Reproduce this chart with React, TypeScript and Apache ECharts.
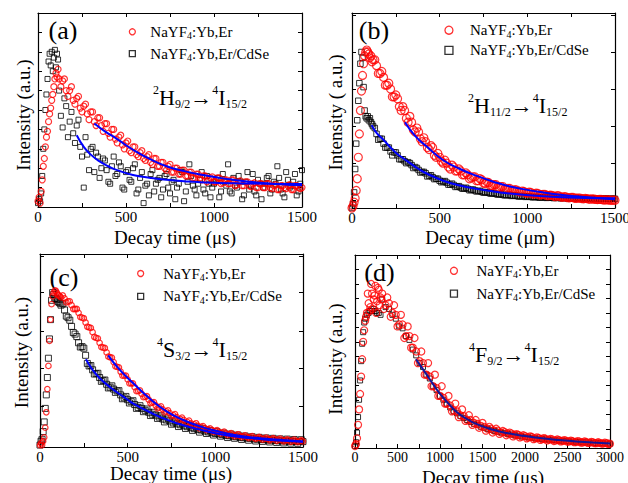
import React, { useEffect, useRef } from "react";
import * as echarts from "echarts";

const FONT = "'Liberation Serif', 'Times New Roman', serif";
const RED = "NaYF4:Yb,Er";
const BLACK = "NaYF4:Yb,Er/CdSe";

// sampling times (µs) for panels a, b, c
const timeABC = [
  0, 6, 12, 18, 24, 30, 36, 42, 48, 54, 60, 66, 72, 78, 84, 90, 96, 102, 108, 114, 120,
  140, 160, 180, 200, 220, 240, 260, 280, 300, 320,
  340, 360, 380, 400, 420, 440, 460, 480, 500, 520,
  540, 560, 580, 600, 620, 640, 660, 680, 700, 720,
  740, 760, 780, 800, 820, 840, 860, 880, 900, 920,
  940, 960, 980, 1000, 1020, 1040, 1060, 1080, 1100, 1120,
  1140, 1160, 1180, 1200, 1220, 1240, 1260, 1280, 1300, 1320,
  1340, 1360, 1380, 1400, 1420, 1440, 1460, 1480, 1500,
];
// second (interleaved) sampling times for panels a, b, c
const timeMid = [
  130, 150, 170, 190, 210, 230, 250, 270, 290, 310,
  330, 350, 370, 390, 410, 430, 450, 470, 490, 510,
  530, 550, 570, 590, 610, 630, 650, 670, 690, 710,
  730, 750, 770, 790, 810, 830, 850, 870, 890, 910,
  930, 950, 970, 990, 1010, 1030, 1050, 1070, 1090, 1110,
  1130, 1150, 1170, 1190, 1210, 1230, 1250, 1270, 1290, 1310,
  1330, 1350, 1370, 1390, 1410, 1430, 1450, 1470, 1490,
];
// sampling times (µs) for panel d
const timeD = [
  0, 12, 24, 36, 48, 60, 72, 84, 96, 108, 120,
  140, 160, 180, 200, 220, 240, 260, 280, 300,
  320, 360, 400, 440, 480, 520, 560, 600, 640, 680,
  720, 760, 800, 840, 880, 920, 960, 1000, 1040, 1080,
  1120, 1160, 1200, 1240, 1280, 1320, 1360, 1400, 1440, 1480,
  1520, 1560, 1600, 1640, 1680, 1720, 1760, 1800, 1840, 1880,
  1920, 1960, 2000, 2040, 2080, 2120, 2160, 2200, 2240, 2280,
  2320, 2360, 2400, 2440, 2480, 2520, 2560, 2600, 2640, 2680,
  2720, 2760, 2800, 2840, 2880, 2920, 2960, 3000,
];
const timeMidD = [
  130, 150, 170, 190, 210, 230, 250, 270, 290, 310,
  340, 380, 420, 460, 500, 540, 580, 620, 660, 700,
  740, 780, 820, 860, 900, 940, 980, 1020, 1060, 1100,
  1140, 1180, 1220, 1260, 1300, 1340, 1380, 1420, 1460, 1500,
  1540, 1580, 1620, 1660, 1700, 1740, 1780, 1820, 1860, 1900,
  1940, 1980, 2020, 2060, 2100, 2140, 2180, 2220, 2260, 2300,
  2340, 2380, 2420, 2460, 2500, 2540, 2580, 2620, 2660, 2700,
  2740, 2780, 2820, 2860, 2900, 2940, 2980,
];

// (a) 2H9/2 -> 4I15/2
const aRed = [
  0.03, 0.05, 0.02, 0.08, 0.14, 0.21, 0.25, 0.31, 0.36, 0.39, 0.44, 0.48, 0.51, 0.55, 0.58, 0.62, 0.66, 0.69, 0.67, 0.71, 0.66,
  0.65, 0.6, 0.6, 0.55, 0.56, 0.51, 0.52, 0.48, 0.49, 0.44,
  0.46, 0.42, 0.43, 0.38, 0.4, 0.35, 0.36, 0.32, 0.33, 0.29,
  0.31, 0.27, 0.28, 0.25, 0.26, 0.23, 0.25, 0.21, 0.23, 0.2,
  0.21, 0.18, 0.2, 0.17, 0.19, 0.16, 0.18, 0.15, 0.17, 0.15,
  0.16, 0.13, 0.15, 0.13, 0.15, 0.12, 0.14, 0.12, 0.14, 0.11,
  0.13, 0.11, 0.13, 0.11, 0.12, 0.1, 0.12, 0.1, 0.12, 0.1,
  0.11, 0.09, 0.11, 0.1, 0.11, 0.09, 0.11, 0.1, 0.1,
];
const aRed2 = [
  0.62, 0.66, 0.57, 0.62, 0.53, 0.57, 0.49, 0.53, 0.45, 0.49,
  0.42, 0.46, 0.39, 0.43, 0.36, 0.4, 0.33, 0.37, 0.3, 0.34,
  0.28, 0.31, 0.26, 0.29, 0.24, 0.27, 0.22, 0.25, 0.21, 0.23,
  0.19, 0.22, 0.18, 0.2, 0.17, 0.19, 0.16, 0.18, 0.15, 0.17,
  0.14, 0.16, 0.14, 0.155, 0.13, 0.15, 0.125, 0.14, 0.12, 0.14,
  0.115, 0.135, 0.11, 0.13, 0.105, 0.125, 0.1, 0.12, 0.1, 0.12,
  0.095, 0.115, 0.09, 0.11, 0.095, 0.115, 0.09, 0.11, 0.095,
];
const aBlack = [
  0.02, 0.04, 0.03, 0.07, 0.16, 0.3, 0.4, 0.5, 0.58, 0.66, 0.75, 0.79, 0.73, 0.8, 0.7, 0.77, 0.81, 0.72, 0.79, 0.76, 0.6,
  0.41, 0.52, 0.44, 0.38, 0.42, 0.31, 0.1, 0.27, 0.3, 0.18,
  0.26, 0.2, 0.24, 0.13, 0.21, 0.16, 0.23, 0.1, 0.18, 0.14,
  0.2, 0.07, 0.15, 0.02, 0.12, 0.17, 0.08, 0.14, 0.05, 0.16,
  0.1, 0.13, 0.04, 0.12, 0.18, 0.08, 0.22, 0.11, 0.06, 0.14,
  0.09, 0.16, 0.05, 0.12, 0.15, 0.08, 0.13, 0.22, 0.07, 0.11,
  0.16, 0.04, 0.13, 0.09, 0.17, 0.06, 0.12, 0.1, 0.15, 0.07,
  0.13, 0.21, 0.09, 0.05, 0.14, 0.11, 0.17, 0.08, 0.19,
];
const aBlack2 = [
  0.47, 0.56, 0.36, 0.49, 0.33, 0.45, 0.26, 0.36, 0.19, 0.31,
  0.28, 0.15, 0.25, 0.19, 0.12, 0.26, 0.17, 0.21, 0.09, 0.19,
  0.13, 0.22, 0.09, 0.18, 0.11, 0.06, 0.19, 0.12, 0.15, 0.09,
  0.17, 0.07, 0.14, 0.1, 0.19, 0.03, 0.13, 0.16, 0.09, 0.12,
  0.18, 0.07, 0.12, 0.1, 0.14, 0.05, 0.17, 0.11, 0.08, 0.15,
  0.1, 0.13, 0.06, 0.18, 0.11, 0.08, 0.14, 0.04, 0.12, 0.16,
  0.09, 0.12, 0.15, 0.07, 0.18, 0.1, 0.13, 0.06, 0.12,
];
const aFitRed = [
  [320, 0.43], [380, 0.39], [450, 0.35], [540, 0.295], [640, 0.245], [730, 0.21], [830, 0.185],
  [920, 0.167], [1020, 0.152], [1110, 0.14], [1200, 0.13], [1300, 0.122], [1400, 0.116], [1500, 0.112],
];
const aFitBlack = [
  [220, 0.37], [260, 0.31], [300, 0.27], [350, 0.235], [400, 0.21], [450, 0.19], [540, 0.165],
  [640, 0.15], [730, 0.14], [830, 0.133], [920, 0.128], [1110, 0.122], [1300, 0.12], [1500, 0.118],
];

// (b) 2H11/2 -> 4I15/2
const bRed = [
  0, 0.01, 0.03, 0.05, 0.09, 0.15, 0.26, 0.38, 0.5, 0.6, 0.68, 0.74, 0.78, 0.8, 0.81, 0.8, 0.79, 0.77, 0.78, 0.75, 0.76,
  0.73, 0.69, 0.67, 0.63, 0.61, 0.57, 0.56, 0.5, 0.5, 0.44,
  0.44, 0.39, 0.39, 0.34, 0.34, 0.3, 0.31, 0.26, 0.26, 0.23,
  0.23, 0.2, 0.21, 0.19, 0.19, 0.17, 0.17, 0.155, 0.16, 0.14,
  0.145, 0.125, 0.13, 0.115, 0.12, 0.105, 0.11, 0.095, 0.1, 0.09,
  0.092, 0.082, 0.085, 0.076, 0.08, 0.072, 0.075, 0.068, 0.07, 0.063,
  0.065, 0.058, 0.062, 0.055, 0.057, 0.052, 0.054, 0.05, 0.051, 0.047,
  0.048, 0.045, 0.046, 0.043, 0.044, 0.041, 0.042, 0.04, 0.04,
];
const bRed2 = [
  0.76, 0.69, 0.7, 0.63, 0.64, 0.57, 0.58, 0.52, 0.52, 0.46,
  0.47, 0.4, 0.41, 0.355, 0.36, 0.31, 0.32, 0.27, 0.28, 0.24,
  0.245, 0.21, 0.22, 0.19, 0.2, 0.17, 0.18, 0.15, 0.16, 0.14,
  0.15, 0.128, 0.133, 0.115, 0.12, 0.105, 0.11, 0.096, 0.1, 0.09,
  0.094, 0.084, 0.087, 0.078, 0.081, 0.072, 0.076, 0.067, 0.07, 0.064,
  0.066, 0.061, 0.063, 0.057, 0.058, 0.053, 0.054, 0.05, 0.051, 0.048,
  0.049, 0.046, 0.047, 0.044, 0.044, 0.042, 0.042, 0.04, 0.04,
];
const bBlack = [
  0, 0.02, 0.08, 0.2, 0.33, 0.45, 0.55, 0.64, 0.74, 0.8, 0.77, 0.62, 0.5, 0.47, 0.46, 0.47, 0.45, 0.46, 0.44, 0.43, 0.42,
  0.38, 0.355, 0.33, 0.31, 0.29, 0.285, 0.27, 0.25, 0.24, 0.235,
  0.22, 0.21, 0.195, 0.185, 0.178, 0.165, 0.158, 0.15, 0.14, 0.135,
  0.13, 0.12, 0.118, 0.11, 0.105, 0.1, 0.098, 0.093, 0.09, 0.087,
  0.083, 0.08, 0.078, 0.075, 0.073, 0.07, 0.068, 0.066, 0.065, 0.063,
  0.062, 0.06, 0.06, 0.058, 0.057, 0.056, 0.055, 0.055, 0.054, 0.053,
  0.053, 0.052, 0.052, 0.051, 0.051, 0.05, 0.05, 0.05, 0.05, 0.049,
  0.049, 0.049, 0.048, 0.048, 0.048, 0.048, 0.047, 0.047, 0.047,
];
const bBlack2 = [
  0.41, 0.35, 0.355, 0.31, 0.31, 0.27, 0.285, 0.25, 0.25, 0.23,
  0.23, 0.205, 0.205, 0.182, 0.185, 0.162, 0.168, 0.148, 0.15, 0.132,
  0.138, 0.12, 0.125, 0.108, 0.112, 0.099, 0.104, 0.091, 0.095, 0.085,
  0.088, 0.079, 0.082, 0.074, 0.077, 0.069, 0.072, 0.065, 0.068, 0.062,
  0.065, 0.059, 0.062, 0.057, 0.06, 0.055, 0.058, 0.053, 0.056, 0.052,
  0.055, 0.051, 0.054, 0.05, 0.053, 0.049, 0.052, 0.048, 0.051, 0.048,
  0.05, 0.047, 0.05, 0.046, 0.049, 0.046, 0.049, 0.046, 0.048,
];
const bFitRed = [
  [302, 0.44], [360, 0.37], [426, 0.315], [521, 0.245], [616, 0.2], [711, 0.165], [806, 0.135],
  [901, 0.11], [1000, 0.093], [1091, 0.08], [1190, 0.068], [1280, 0.06], [1400, 0.051], [1500, 0.045],
];
const bFitBlack = [
  [112, 0.425], [140, 0.385], [179, 0.35], [220, 0.31], [255, 0.28], [300, 0.25], [331, 0.23], [380, 0.2],
  [426, 0.177], [521, 0.14], [616, 0.115], [711, 0.098], [806, 0.085], [901, 0.074], [1091, 0.06],
  [1280, 0.053], [1500, 0.05],
];

// (c) 4S3/2 -> 4I15/2
const cRed = [
  0.01, 0.02, 0.01, 0.03, 0.05, 0.1, 0.18, 0.3, 0.42, 0.55, 0.66, 0.74, 0.78, 0.8, 0.81, 0.81, 0.8, 0.79, 0.785, 0.78, 0.775,
  0.77, 0.755, 0.735, 0.715, 0.695, 0.67, 0.645, 0.62, 0.595, 0.565,
  0.54, 0.515, 0.49, 0.465, 0.44, 0.415, 0.39, 0.37, 0.35, 0.33,
  0.31, 0.29, 0.275, 0.26, 0.245, 0.23, 0.215, 0.205, 0.195, 0.185,
  0.175, 0.165, 0.155, 0.145, 0.14, 0.13, 0.123, 0.117, 0.11, 0.104,
  0.098, 0.093, 0.088, 0.083, 0.078, 0.074, 0.071, 0.067, 0.064, 0.061,
  0.058, 0.056, 0.053, 0.051, 0.049, 0.047, 0.045, 0.044, 0.042, 0.041,
  0.039, 0.038, 0.036, 0.035, 0.034, 0.033, 0.031, 0.03, 0.029,
];
const cRed2 = [
  0.785, 0.75, 0.755, 0.715, 0.715, 0.673, 0.667, 0.623, 0.617, 0.57,
  0.563, 0.518, 0.513, 0.468, 0.463, 0.418, 0.413, 0.37, 0.37, 0.33,
  0.33, 0.29, 0.293, 0.258, 0.263, 0.228, 0.232, 0.2, 0.21, 0.18,
  0.19, 0.16, 0.17, 0.14, 0.152, 0.125, 0.137, 0.11, 0.123, 0.097,
  0.108, 0.088, 0.097, 0.078, 0.087, 0.069, 0.079, 0.062, 0.072, 0.055,
  0.066, 0.051, 0.06, 0.046, 0.056, 0.042, 0.052, 0.038, 0.049, 0.035,
  0.046, 0.032, 0.043, 0.029, 0.04, 0.027, 0.038, 0.025, 0.035,
];
const cBlack = [
  0.01, 0.03, 0.04, 0.08, 0.13, 0.2, 0.27, 0.36, 0.46, 0.56, 0.66, 0.76, 0.8, 0.79, 0.77, 0.77, 0.765, 0.755, 0.75, 0.745, 0.735,
  0.71, 0.67, 0.625, 0.585, 0.54, 0.52, 0.475, 0.42, 0.4, 0.38,
  0.36, 0.345, 0.325, 0.31, 0.3, 0.29, 0.27, 0.255, 0.245, 0.235,
  0.22, 0.205, 0.2, 0.19, 0.18, 0.17, 0.165, 0.155, 0.145, 0.14,
  0.135, 0.125, 0.12, 0.115, 0.11, 0.105, 0.1, 0.095, 0.09, 0.088,
  0.083, 0.078, 0.074, 0.07, 0.068, 0.064, 0.06, 0.058, 0.056, 0.053,
  0.05, 0.048, 0.046, 0.045, 0.042, 0.04, 0.04, 0.038, 0.036, 0.036,
  0.034, 0.032, 0.032, 0.031, 0.03, 0.03, 0.029, 0.028, 0.028,
];
const cBlack2 = [
  0.742, 0.678, 0.657, 0.593, 0.572, 0.518, 0.512, 0.433, 0.422, 0.378,
  0.382, 0.34, 0.347, 0.306, 0.317, 0.283, 0.292, 0.25, 0.262, 0.228,
  0.24, 0.2, 0.214, 0.183, 0.197, 0.163, 0.18, 0.148, 0.162, 0.13,
  0.15, 0.118, 0.134, 0.106, 0.124, 0.096, 0.114, 0.086, 0.104, 0.077,
  0.095, 0.07, 0.086, 0.062, 0.079, 0.056, 0.072, 0.049, 0.067, 0.045,
  0.062, 0.039, 0.057, 0.035, 0.053, 0.031, 0.05, 0.029, 0.047, 0.026,
  0.045, 0.023, 0.042, 0.021, 0.041, 0.02, 0.039, 0.019, 0.038,
];
const cFitRed = [
  [389, 0.475], [450, 0.405], [532, 0.33], [627, 0.25], [722, 0.185], [817, 0.14], [912, 0.107],
  [1007, 0.083], [1102, 0.064], [1197, 0.051], [1292, 0.043], [1387, 0.036], [1500, 0.029],
];
const cFitBlack = [
  [262, 0.455], [300, 0.4], [342, 0.355], [400, 0.31], [437, 0.285], [500, 0.245], [532, 0.225],
  [627, 0.18], [722, 0.142], [817, 0.113], [912, 0.09], [1007, 0.07], [1102, 0.056], [1197, 0.046],
  [1292, 0.038], [1387, 0.032], [1500, 0.027],
];

// (d) 4F9/2 -> 4I15/2
const dRed = [
  0.01, 0.02, 0.05, 0.12, 0.2, 0.28, 0.37, 0.46, 0.55, 0.61, 0.66,
  0.7, 0.75, 0.73, 0.8, 0.77, 0.84, 0.76, 0.82, 0.78,
  0.8, 0.74, 0.75, 0.7, 0.69, 0.64, 0.64, 0.58, 0.58, 0.52,
  0.5, 0.45, 0.44, 0.38, 0.37, 0.32, 0.31, 0.27, 0.26, 0.23,
  0.22, 0.195, 0.19, 0.17, 0.165, 0.145, 0.145, 0.13, 0.125, 0.115,
  0.11, 0.1, 0.1, 0.09, 0.09, 0.08, 0.082, 0.074, 0.075, 0.068,
  0.068, 0.06, 0.062, 0.055, 0.057, 0.05, 0.052, 0.046, 0.048, 0.043,
  0.044, 0.039, 0.041, 0.036, 0.038, 0.034, 0.035, 0.031, 0.033, 0.029,
  0.031, 0.027, 0.029, 0.025, 0.027, 0.023, 0.025, 0.022,
];
const dRed2 = [
  0.68, 0.8, 0.71, 0.85, 0.72, 0.79, 0.7, 0.83, 0.74, 0.77,
  0.72, 0.78, 0.68, 0.74, 0.63, 0.69, 0.57, 0.63, 0.52, 0.57,
  0.44, 0.5, 0.38, 0.44, 0.32, 0.38, 0.27, 0.32, 0.23, 0.27,
  0.19, 0.23, 0.16, 0.2, 0.14, 0.17, 0.12, 0.145, 0.105, 0.13,
  0.09, 0.11, 0.08, 0.1, 0.073, 0.088, 0.066, 0.08, 0.06, 0.072,
  0.055, 0.066, 0.05, 0.06, 0.046, 0.055, 0.042, 0.051, 0.039, 0.047,
  0.036, 0.044, 0.034, 0.041, 0.032, 0.038, 0.03, 0.036, 0.028, 0.034,
  0.026, 0.032, 0.025, 0.03, 0.023, 0.028, 0.021,
];
const dBlack = [
  0.01, 0.03, 0.08, 0.16, 0.25, 0.35, 0.45, 0.54, 0.6, 0.65, 0.67,
  0.69, 0.7, 0.71, 0.71, 0.72, 0.71, 0.7, 0.7, 0.69,
  0.77, 0.73, 0.72, 0.69, 0.67, 0.63, 0.62, 0.58, 0.56, 0.51,
  0.48, 0.44, 0.42, 0.38, 0.36, 0.32, 0.3, 0.27, 0.25, 0.23,
  0.21, 0.19, 0.18, 0.165, 0.155, 0.145, 0.135, 0.125, 0.12, 0.11,
  0.105, 0.098, 0.094, 0.088, 0.084, 0.08, 0.077, 0.073, 0.07, 0.066,
  0.064, 0.06, 0.058, 0.055, 0.053, 0.05, 0.049, 0.046, 0.045, 0.043,
  0.042, 0.04, 0.039, 0.037, 0.036, 0.034, 0.033, 0.032, 0.031, 0.03,
  0.029, 0.028, 0.027, 0.026, 0.025, 0.024, 0.023, 0.022,
];
const dFitRed = [
  [717, 0.46], [780, 0.42], [843, 0.38], [920, 0.33], [1000, 0.28], [1100, 0.23], [1200, 0.185],
  [1300, 0.155], [1400, 0.13], [1600, 0.097], [1800, 0.076], [2000, 0.062], [2200, 0.05],
  [2400, 0.041], [2600, 0.034], [2800, 0.028], [3000, 0.023],
];

// tick positions / labels
const xTicks1500 = [0, 250, 500, 750, 1000, 1250, 1500];
const xLabels1500 = [0, 500, 1000, 1500];
const xTicks3000 = [0, 250, 500, 750, 1000, 1250, 1500, 1750, 2000, 2250, 2500, 2750, 3000];
const xLabels3000 = [0, 500, 1000, 1500, 2000, 2500, 3000];
const yTicksA = [0.1, 0.2, 0.3, 0.4, 0.5, 0.6, 0.7, 0.8, 0.9];
const yTicksB = [0.04, 0.23, 0.42, 0.61, 0.8, 0.99];
const yTicksC = [0.02, 0.21, 0.41, 0.6, 0.8, 0.99];
const yTicksD = [0.024, 0.099, 0.174, 0.249, 0.324, 0.399, 0.474, 0.549, 0.624, 0.699, 0.774, 0.849, 0.924];

const pts = (t: number[], v: number[]) => t.map((x, i) => [x, v[i]]);

type Panel = {
  grid: { left: number; top: number; width: number; height: number };
  xMax: number;
  xTicks: number[];
  xLabels: number[];
  yTicks: number[];
  labelSize: number;
  red: number[][];
  black: number[][];
  fits: number[][][];
  fitColor: string;
  redSize: number;
  blackSize: number;
  legend: { left: number; top: number; gap: number; pad: number; icon: number };
};

const panels: Panel[] = [
  {
    grid: { left: 38, top: 13, width: 264, height: 194 },
    xMax: 1500, xTicks: xTicks1500, xLabels: xLabels1500, yTicks: yTicksA, labelSize: 15,
    red: [...pts(timeABC, aRed), ...pts(timeMid, aRed2)],
    black: [...pts(timeABC, aBlack), ...pts(timeMid, aBlack2)],
    fits: [aFitBlack, aFitRed], fitColor: "#0000ff",
    redSize: 6, blackSize: 5,
    legend: { left: 128.7, top: 24.3, gap: 5.4, pad: 10, icon: 6 },
  },
  {
    grid: { left: 352, top: 13, width: 263, height: 195 },
    xMax: 1500, xTicks: xTicks1500, xLabels: xLabels1500, yTicks: yTicksB, labelSize: 15,
    red: [...pts(timeABC, bRed), ...pts(timeMid, bRed2)],
    black: [...pts(timeABC, bBlack), ...pts(timeMid, bBlack2)],
    fits: [bFitBlack, bFitRed], fitColor: "#0000ff",
    redSize: 8, blackSize: 5.5,
    legend: { left: 444.3, top: 22.7, gap: 3.6, pad: 12, icon: 8 },
  },
  {
    grid: { left: 40, top: 254, width: 263, height: 193 },
    xMax: 1500, xTicks: xTicks1500, xLabels: xLabels1500, yTicks: yTicksC, labelSize: 15,
    red: [...pts(timeABC, cRed), ...pts(timeMid, cRed2)],
    black: [...pts(timeABC, cBlack), ...pts(timeMid, cBlack2)],
    fits: [cFitBlack, cFitRed], fitColor: "#0000ff",
    redSize: 5.5, blackSize: 6,
    legend: { left: 137, top: 266, gap: 6.3, pad: 14.5, icon: 6 },
  },
  {
    grid: { left: 355, top: 255, width: 255, height: 193 },
    xMax: 3000, xTicks: xTicks3000, xLabels: xLabels3000, yTicks: yTicksD, labelSize: 14,
    red: [...pts(timeD, dRed), ...pts(timeMidD, dRed2)],
    black: pts(timeD, dBlack),
    fits: [dFitRed], fitColor: "#15159a",
    redSize: 7, blackSize: 5,
    legend: { left: 449.8, top: 263.3, gap: 6.4, pad: 14, icon: 7 },
  },
];

const tags = [
  { text: "(a)", x: 63, y: 30 },
  { text: "(b)", x: 374, y: 30 },
  { text: "(c)", x: 64, y: 277 },
  { text: "(d)", x: 379.5, y: 272 },
];
const yTitles = [
  { text: "Intensity (a.u.)", x: 23, y: 115 },
  { text: "Intensity ( a.u.)", x: 335, y: 112.5 },
  { text: "Intensity (a.u.)", x: 21, y: 352.5 },
  { text: "Intensity (a.u.)", x: 335, y: 359 },
];
const xTitles = [
  { text: "Decay time (μs)", x: 175, y: 237 },
  { text: "Decay time (μm)", x: 490, y: 237 },
  { text: "Decay time (μs)", x: 171, y: 473 },
  { text: "Decay time (μs)", x: 483, y: 477 },
];
const transitions = [
  { text: "{p|2}{m|H}{b|9/2}{m|→}{p|4}{m|I}{b|15/2}", x: 153, y: 97 },
  { text: "{p|2}{m|H}{b|11/2}{m|→}{p|4}{m|I}{b|15/2}", x: 468, y: 105 },
  { text: "{p|4}{m|S}{b|3/2}{m|→}{p|4}{m|I}{b|15/2}", x: 157, y: 349 },
  { text: "{p|4}{m|F}{b|9/2}{m|→}{p|4}{m|I}{b|15/2}", x: 469, y: 354 },
];

function buildOption() {
  const axisLine = { show: true, onZero: false, lineStyle: { color: "#000", width: 1.2 } };
  const grid: any[] = [];
  const xAxis: any[] = [];
  const yAxis: any[] = [];
  const series: any[] = [];
  const legend: any[] = [];

  panels.forEach((p, i) => {
    grid.push({ ...p.grid, containLabel: false, outerBoundsMode: "none" });
    const tick = (vals: number[]) => ({
      show: true, inside: true, length: 4, customValues: vals,
      lineStyle: { color: "#000", width: 1 },
    });
    xAxis.push({
      type: "value", gridIndex: i, position: "bottom", min: 0, max: p.xMax,
      axisLine, axisTick: tick(p.xTicks), splitLine: { show: false },
      axisLabel: {
        customValues: p.xLabels, fontFamily: FONT, fontSize: p.labelSize, color: "#000", margin: 2,
        formatter: (v: number) => String(v),
      },
    });
    xAxis.push({
      type: "value", gridIndex: i, position: "top", min: 0, max: p.xMax,
      axisLine, axisTick: tick(p.xTicks), splitLine: { show: false }, axisLabel: { show: false },
    });
    yAxis.push({
      type: "value", gridIndex: i, position: "left", min: 0, max: 1,
      axisLine, axisTick: tick(p.yTicks), splitLine: { show: false }, axisLabel: { show: false },
    });
    yAxis.push({
      type: "value", gridIndex: i, position: "right", min: 0, max: 1,
      axisLine, axisTick: tick(p.yTicks), splitLine: { show: false }, axisLabel: { show: false },
    });

    series.push({
      type: "scatter", name: BLACK, xAxisIndex: 2 * i, yAxisIndex: 2 * i,
      data: p.black, symbol: "rect", symbolSize: p.blackSize,
      itemStyle: { color: "rgba(0,0,0,0)", borderColor: "#000", borderWidth: 1 },
      emphasis: { disabled: true }, z: 2,
    });
    series.push({
      type: "scatter", name: RED, xAxisIndex: 2 * i, yAxisIndex: 2 * i,
      data: p.red, symbol: "circle", symbolSize: p.redSize,
      itemStyle: { color: "rgba(0,0,0,0)", borderColor: "#ff0000", borderWidth: 1.2 },
      emphasis: { disabled: true }, z: 3,
    });
    p.fits.forEach((f) => {
      series.push({
        type: "line", name: "fit", xAxisIndex: 2 * i, yAxisIndex: 2 * i,
        data: f, smooth: true, showSymbol: false, symbol: "none",
        lineStyle: { color: p.fitColor, width: 2 }, emphasis: { disabled: true }, z: 4,
      });
    });

    const L = p.legend;
    legend.push({
      orient: "vertical", left: L.left, top: L.top, itemGap: L.gap, padding: 0,
      itemWidth: L.icon, itemHeight: L.icon, selectedMode: false,
      data: [
        { name: RED, icon: "circle", itemStyle: { color: "rgba(0,0,0,0)", borderColor: "#ff0000", borderWidth: 1.3 } },
        { name: BLACK, icon: "rect", itemStyle: { color: "rgba(0,0,0,0)", borderColor: "#000", borderWidth: 1.3 } },
      ],
      formatter: (name: string) =>
        name === RED ? "{t|NaYF}{s|4}{t|:Yb,Er}" : "{t|NaYF}{s|4}{t|:Yb,Er/CdSe}",
      textStyle: {
        padding: [0, 0, 0, L.pad],
        rich: {
          t: { fontFamily: FONT, fontSize: 15, color: "#000", lineHeight: 18 },
          s: { fontFamily: FONT, fontSize: 10, color: "#000", lineHeight: 8, verticalAlign: "bottom" },
        },
      },
    });
  });

  const graphic: any[] = [];
  tags.forEach((t) =>
    graphic.push({
      type: "text", x: t.x, y: t.y, silent: true,
      style: { text: t.text, fontFamily: FONT, fontSize: 26, fill: "#000", align: "center", verticalAlign: "middle" },
    })
  );
  yTitles.forEach((t) =>
    graphic.push({
      type: "text", x: t.x, y: t.y, rotation: Math.PI / 2, silent: true,
      style: { text: t.text, fontFamily: FONT, fontSize: 19, fill: "#000", align: "center", verticalAlign: "middle" },
    })
  );
  xTitles.forEach((t) =>
    graphic.push({
      type: "text", x: t.x, y: t.y, silent: true,
      style: { text: t.text, fontFamily: FONT, fontSize: 19, fill: "#000", align: "center", verticalAlign: "middle" },
    })
  );
  transitions.forEach((t) =>
    graphic.push({
      type: "text", x: t.x, y: t.y, silent: true,
      style: {
        text: t.text, align: "left", verticalAlign: "middle", fill: "#000",
        rich: {
          m: { fontFamily: FONT, fontSize: 22, lineHeight: 26, fill: "#000" },
          p: { fontFamily: FONT, fontSize: 12, lineHeight: 18, verticalAlign: "top", fill: "#000" },
          b: { fontFamily: FONT, fontSize: 12, lineHeight: 7, verticalAlign: "bottom", fill: "#000" },
        },
      },
    })
  );

  return {
    animation: false,
    backgroundColor: "#ffffff",
    textStyle: { fontFamily: FONT },
    grid,
    xAxis,
    yAxis,
    legend,
    series,
    graphic,
  };
}

export default function App() {
  const ref = useRef<HTMLDivElement>(null);
  useEffect(() => {
    document.body.style.margin = "0";
    const chart = echarts.init(ref.current as HTMLDivElement, null, { renderer: "svg" });
    chart.setOption(buildOption() as any);
    return () => chart.dispose();
  }, []);
  return <div ref={ref} style={{ width: 628, height: 483 }} />;
}
